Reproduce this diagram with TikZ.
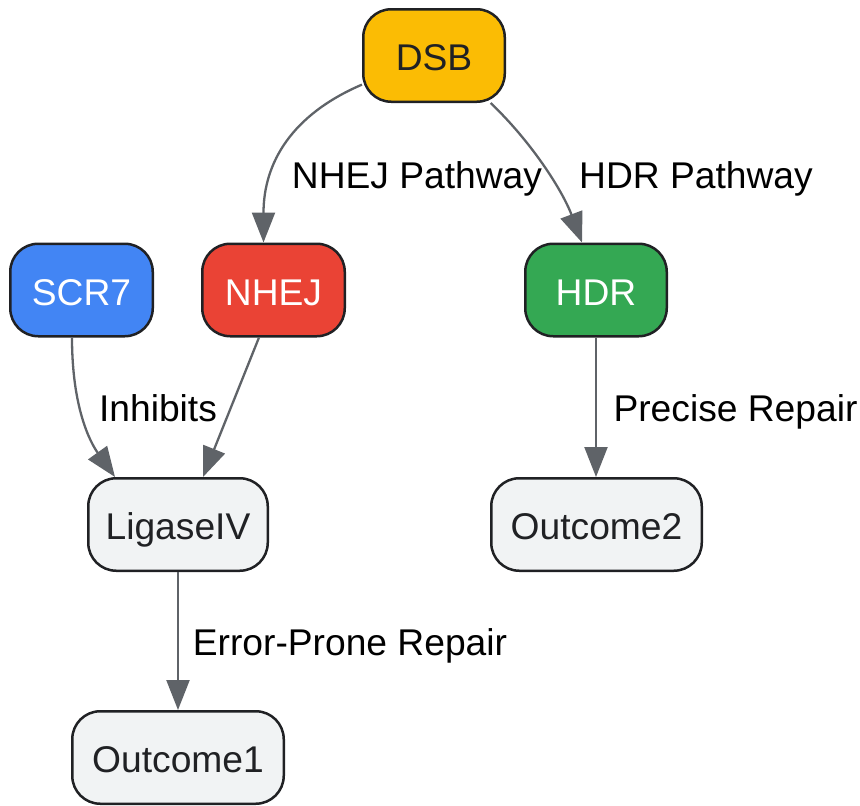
\documentclass[tikz,border=0pt]{standalone}
\usepackage{fontspec}
\setmainfont{Liberation Sans}
\usetikzlibrary{arrows.meta}
\definecolor{cY}{HTML}{FBBC04}
\definecolor{cR}{HTML}{EA4335}
\definecolor{cG}{HTML}{34A853}
\definecolor{cB}{HTML}{4285F4}
\definecolor{cGray}{HTML}{F1F3F4}
\definecolor{cBorder}{HTML}{202124}
\definecolor{cText}{HTML}{202124}
\definecolor{cEdge}{HTML}{5F6368}
\begin{document}
\begin{tikzpicture}[x=1pt,y=-1pt,
  box/.style={draw=cBorder, line width=2.5pt, rounded corners=28pt, minimum height=92.5pt,
    inner sep=0pt, text height=30pt, text depth=0pt,
    font=\fontsize{37.2}{44}\selectfont, text=cText},
  edge/.style={draw=cEdge, line width=2.3pt, -{Triangle[length=30pt,width=23pt]}},
  lbl/.style={font=\fontsize{37.2}{44}\selectfont, inner sep=0pt, text=black, anchor=base}]
\useasboundingbox (0,0) rectangle (860,806);
\node[box, fill=cY, minimum width=141.5pt] (dsb) at (434,55.5) {DSB};
\node[box, fill=cB, text=white, minimum width=142.5pt] (scr7) at (81.5,290) {SCR7};
\node[box, fill=cR, text=white, minimum width=142.5pt] (nhej) at (273.5,290) {NHEJ};
\node[box, fill=cG, text=white, minimum width=141.5pt] (hdr) at (596,290) {HDR};
\node[box, fill=cGray, minimum width=179.5pt] (lig) at (178,524.5) {LigaseIV};
\node[box, fill=cGray, minimum width=210.5pt] (out2) at (596.5,524.5) {Outcome2};
\node[box, fill=cGray, minimum width=211.5pt] (out1) at (178,757.5) {Outcome1};

\draw[edge] (dsb.202) .. controls +(-70,30) and +(0,-80) .. ([xshift=-10pt]nhej.north);
\draw[edge] (dsb.320) .. controls +(40,38) and +(-20,-53) .. ([xshift=-14pt]hdr.north);
\draw[edge] ([xshift=-9.5pt]scr7.south) .. controls +(0,70) and +(-25,-35) .. ([xshift=-63pt]lig.north);
\draw[edge] ([xshift=-14.5pt]nhej.south) -- ([xshift=25pt]lig.north);
\draw[edge] (hdr.south) -- (hdr.south |- out2.north);
\draw[edge] (lig.south) -- (out1.north);

\node[lbl] (l1) at (417,188) {NHEJ Pathway};
\node[lbl] (l2) at (696,188) {HDR Pathway};
\node[lbl] (l3) at (158,421) {Inhibits};
\node[lbl] (l4) at (735.5,421) {Precise Repair};
\node[lbl] (l5) at (350,655) {Error-Prone Repair};
\end{tikzpicture}
\end{document}
